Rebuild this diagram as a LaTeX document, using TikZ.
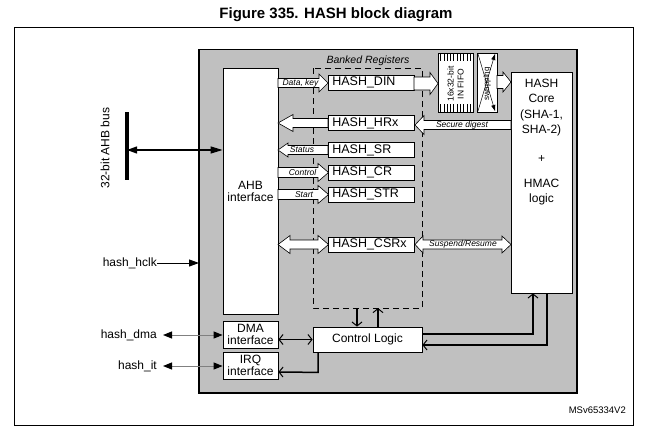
\documentclass[tikz,border=0pt]{standalone}
\usepackage{fontspec}
\setmainfont{Liberation Sans}
\usetikzlibrary{arrows.meta}
\definecolor{boxgray}{RGB}{192,192,192}
\newcommand\BArR[6]{\draw[barrow] ({#1},{#3-#4}) -- ({#2-#6},{#3-#4}) -- ({#2-#6},{#3-#5}) -- ({#2},{#3}) -- ({#2-#6},{#3+#5}) -- ({#2-#6},{#3+#4}) -- ({#1},{#3+#4}) -- cycle;}
\newcommand\BArL[6]{\draw[barrow] ({#2},{#3-#4}) -- ({#1+#6},{#3-#4}) -- ({#1+#6},{#3-#5}) -- ({#1},{#3}) -- ({#1+#6},{#3+#5}) -- ({#1+#6},{#3+#4}) -- ({#2},{#3+#4}) -- cycle;}
\newcommand\BArD[7]{\draw[barrow] ({#1},{#3}) -- ({#1+#6},{#3-#5}) -- ({#1+#6},{#3-#4}) -- ({#2-#7},{#3-#4}) -- ({#2-#7},{#3-#5}) -- ({#2},{#3}) -- ({#2-#7},{#3+#5}) -- ({#2-#7},{#3+#4}) -- ({#1+#6},{#3+#4}) -- ({#1+#6},{#3+#5}) -- cycle;}
\tikzset{
  box/.style={draw, fill=white, line width=0.8pt, inner sep=0pt, font=\fontsize{12}{14}\selectfont, align=center},
  reg/.style={box, minimum width=86pt, minimum height=15pt},
  lbl/.style={font=\fontsize{8.5}{9}\selectfont\itshape, inner sep=0pt},
  barrow/.style={draw, fill=white, line width=0.6pt},
  ctl/.style={line width=1.5pt},
  barbend/.style={-{Straight Barb[length=4pt,width=10pt,line width=1pt]}},
  barbboth/.style={{Straight Barb[length=4pt,width=10pt,line width=1pt]}-{Straight Barb[length=4pt,width=10pt,line width=1pt]}},
  tri/.style={-{Triangle[length=10pt,width=7pt]}},
  txt/.style={font=\fontsize{12}{14}\selectfont, inner sep=0pt},
}
\begin{document}
\begin{tikzpicture}[x=1pt,y=-1pt]
\useasboundingbox (0,0) rectangle (647,442);
\node[font=\fontsize{15}{16}\selectfont\bfseries] (title) at (336,15) {Figure 335. HASH block diagram};
\draw[line width=0.9pt] (14,27) rectangle (633,425);
\draw[line width=1.8pt, fill=boxgray] (199,49.5) rectangle (577,393);
% dashed banked registers
\draw[dashed, line width=0.8pt, dash pattern=on 6pt off 4pt] (313,68) rectangle (422,308);
\node[font=\fontsize{10.5}{12}\selectfont\itshape] (banklbl) at (368,61) {Banked Registers};
% boxes
\node[box, minimum width=55pt, minimum height=246pt] (ahb) at (250.5,191) {AHB\\[-2pt]interface};
\node[box, minimum width=55pt, minimum height=27pt, font=\fontsize{12}{12.5}\selectfont] (dma) at (250.5,334.5) {DMA\\interface};
\node[box, minimum width=55pt, minimum height=27pt, font=\fontsize{12}{12.5}\selectfont] (irq) at (250.5,365.5) {IRQ\\interface};
\node[box, minimum width=109pt, minimum height=25pt] (cl) at (367.5,339.5) {Control Logic};
\node[reg] (din) at (371,82.5) {};
\node[reg] (hrx) at (371,123) {};
\node[reg] (sr) at (371,150) {};
\node[reg] (cr) at (371,172.5) {};
\node[reg] (str) at (371,194.5) {};
\node[reg] (csrx) at (371,244.5) {};
\foreach \n/\t in {din/HASH\_DIN, hrx/HASH\_HRx, sr/HASH\_SR, cr/HASH\_CR, str/HASH\_STR, csrx/HASH\_CSRx}
  \node[txt, font=\fontsize{12.5}{14}\selectfont, anchor=west] at ([xshift=4.5pt]\n.west) {\t};
\node[box, minimum width=35pt, minimum height=59pt] (fifo) at (455.5,82.5) {};
\node[box, minimum width=20pt, minimum height=59pt] (swap) at (487,82.5) {};
\node[box, minimum width=61pt, minimum height=221pt] (core) at (541.5,182.5) {};
\node[txt, align=center, font=\fontsize{12}{15.5}\selectfont] (coret) at (541.5,107.5) {HASH\\Core\\(SHA-1,\\SHA-2)};
\node[txt] (plus) at (541.5,159) {+};
\node[txt, align=center, font=\fontsize{12}{15}\selectfont] (hmac) at (541.5,192.5) {HMAC\\logic};
% FIFO detail
\foreach \i in {0,...,9} {
  \draw[line width=0.6pt] ({440.5+3.3*\i},53) -- ({440.5+3.3*\i},61);
  \draw[line width=0.6pt] ({440.5+3.3*\i},104) -- ({440.5+3.3*\i},112);
}
\node[rotate=90, font=\fontsize{8.5}{10}\selectfont, align=center, inner sep=0pt] (fifot) at (455.5,84) {16x32-bit\\IN FIFO};
\node[rotate=90, font=\fontsize{8}{9}\selectfont, inner sep=0pt] (swapt) at (487,84) {swapping};
\draw[line width=0.5pt, -{Triangle[length=6pt,width=4pt]}] (478,111) -- (495,54);
\draw[line width=0.5pt, -{Triangle[length=6pt,width=4pt]}] (478,54) -- (495,111);
% block arrows
\BArR{278}{328}{83}{4.5}{9}{9}
\BArL{278}{328}{123}{4.5}{8.5}{15}
\BArL{278}{328}{150}{4.5}{7}{10}
\BArR{278}{328.5}{172.5}{5}{9}{10.5}
\BArR{278}{328.5}{194.5}{5}{9}{10.5}
\BArD{278}{328.5}{244.5}{4.5}{9}{12}{10.5}
\BArR{414}{438}{83.5}{6.5}{11}{8}
\BArR{497}{511}{82}{6.5}{10}{8}
\BArL{415}{511}{125}{4.5}{9.5}{9}
\BArD{415}{511}{244.5}{4.5}{8.5}{8}{9}
\node[lbl] (l1) at (300.5,83) {Data, key};
\node[lbl] (l2) at (302,150) {Status};
\node[lbl] (l3) at (302.5,172.5) {Control};
\node[lbl] (l4) at (304,194.5) {Start};
\node[lbl] (l5) at (462,125) {Secure digest};
\node[lbl] (l6) at (463,244.5) {Suspend/Resume};
% AHB bus
\coordinate (bustop) at (127,112);
\coordinate (busbot) at (127,180);
\draw[line width=4pt] (bustop) -- (busbot);
\coordinate (busp) at (127,150);
\node[txt, rotate=90] (buslbl) at (105,148) {32-bit AHB bus};
\draw[line width=1.2pt, {Triangle[length=10pt,width=7pt]}-{Triangle[length=12pt,width=7pt]}] (busp) -- (busp -| ahb.west);
% external signals
\node[txt, anchor=east] (hclk) at (157,263) {hash\_hclk};
\draw[line width=1pt, tri] (hclk.east) -- (hclk.east -| 199,0);
\node[txt, anchor=east] (hdma) at (157,335) {hash\_dma};
\draw[line width=1pt, gray, {Triangle[length=9pt,width=7pt,color=black]}-{Triangle[length=9pt,width=7pt,color=black]}] ([xshift=6pt]hdma.east) -- (hdma.east -| dma.west);
\node[txt, anchor=east] (hit) at (157,366) {hash\_it};
\draw[line width=1pt, gray, {Triangle[length=9pt,width=7pt,color=black]}-{Triangle[length=9pt,width=7pt,color=black]}] ([xshift=6pt]hit.east) -- (hit.east -| irq.west);
% control logic connections
\draw[ctl, barbboth] (dma.east |- cl.west) -- (cl.west);
\draw[ctl, barbend] ([xshift=-49.5pt]cl.south) -- ++(0,20) -- (irq.east |- 0,372);
\draw[ctl, barbend] (357,308) -- (357,0 |- cl.north);
\draw[ctl, barbend] (378,0 |- cl.north) -- (378,308);
\draw[ctl, barbend] (cl.east |- 0,334) -- (533,334) -- (533,0 |- core.south);
\draw[ctl, barbend] (547,0 |- core.south) -- (547,345) -- (cl.east |- 0,345);
\node[font=\fontsize{9.5}{10}\selectfont, anchor=east, inner sep=0pt] (msv) at (626,410) {MSv65334V2};
\end{tikzpicture}
\end{document}
